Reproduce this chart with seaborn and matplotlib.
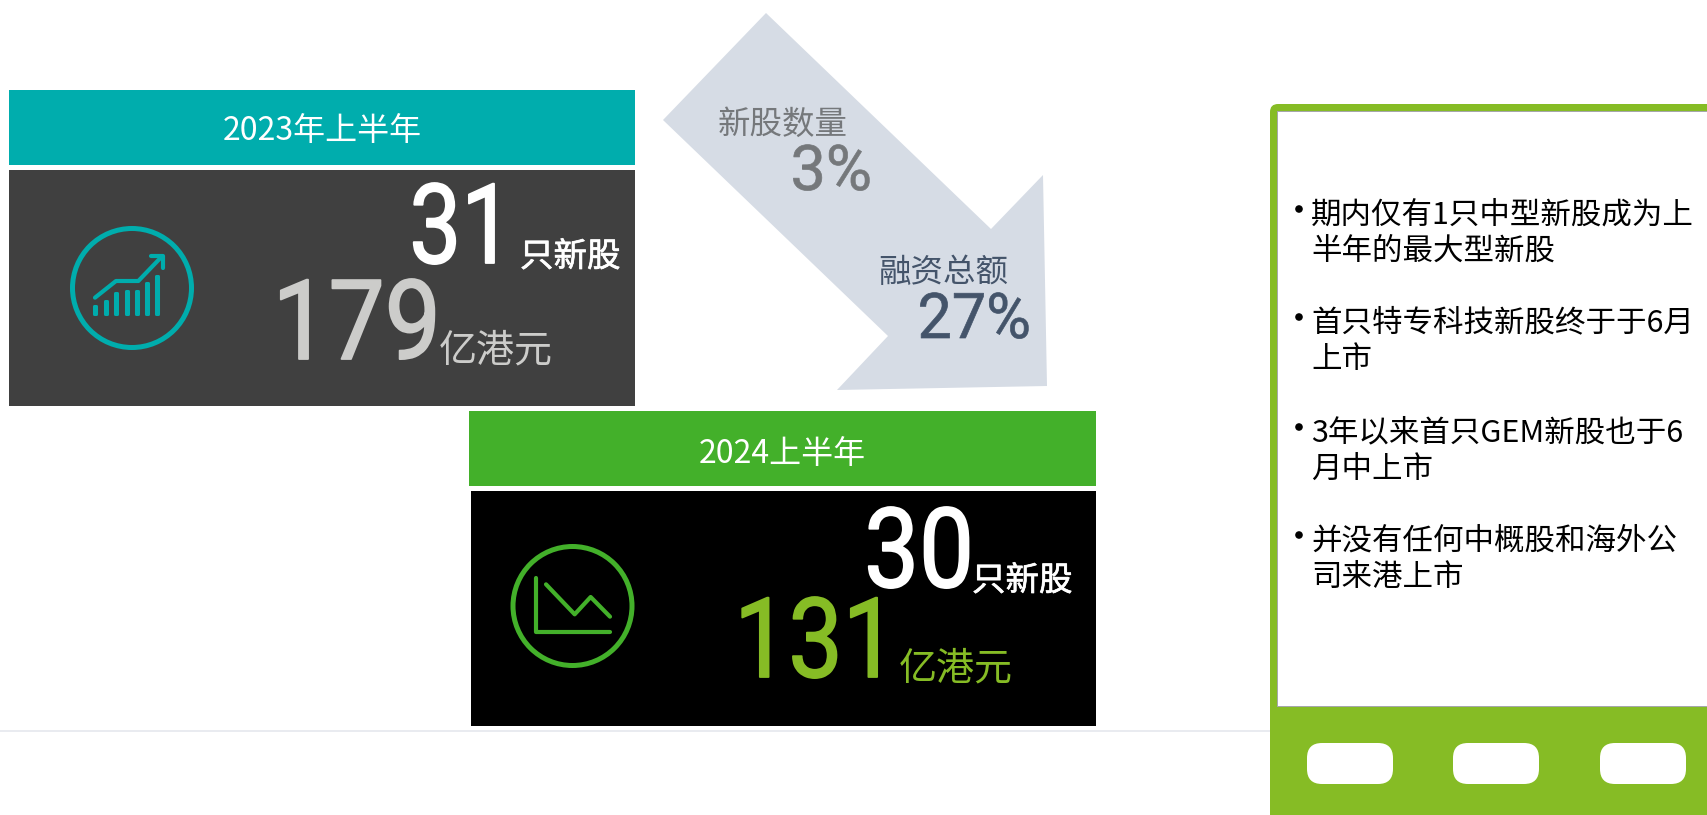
# -*- coding: utf-8 -*-
import numpy as np
import pandas as pd
import seaborn as sns
import matplotlib.pyplot as plt
import matplotlib.patheffects as pe
from matplotlib.patches import Rectangle, Circle, Polygon, FancyBboxPatch
from matplotlib.transforms import Affine2D

periods = ['2023年上半年', '2024上半年']
ipo_counts = [31, 30]
funds_raised = [179, 131]
drop_labels = ['新股数量', '融资总额']
drop_pct = [3, 27]
notes = [['期内仅有1只中型新股成为上', '半年的最大型新股'],
         ['首只特专科技新股终于于6月', '上市'],
         ['3年以来首只GEM新股也于6', '月中上市'],
         ['并没有任何中概股和海外公', '司来港上市']]

# icon readings, in units of the zoomed crop
icon_bar_x = [105, 137, 169, 200, 231, 261, 292]
icon_bar_h = [23, 39, 62, 70, 70, 92, 115]
icon_up_x = [105, 168, 235, 305]
icon_up_y = [248, 198, 198, 125]
icon_head_x = [272, 310, 310]
icon_head_y = [122, 122, 158]
icon_axis_x = [109, 109, 330]
icon_axis_y = [130, 290, 290]
icon_down_x = [138, 224, 272, 330]
icon_down_y = [148, 238, 186, 245]

TEAL = '#00ADAD'
GREEN = '#43B02A'
LIME = '#86BC25'
DARK = '#404040'
PALE = '#CCCCCA'
GREY = '#75787B'
SLATE = '#44546A'
ARROW = '#D6DCE5'

sns.set_theme(style='white')
cjk = ['Noto Sans CJK SC', 'DejaVu Sans']
big = ['Roboto', 'DejaVu Sans']
plt.rcParams['font.family'] = cjk

W, H = 1707, 815
fig = plt.figure(figsize=(W / 100, H / 100), dpi=100, facecolor='white')
ax = fig.add_axes([0, 0, 1, 1])
ax.set_xlim(0, W)
ax.set_ylim(H, 0)
ax.set_axis_off()


class Squeeze(pe.AbstractPathEffect):
    # narrow the glyphs around x0, the installed fonts have no condensed digits
    def __init__(self, sx, x0, stroke):
        super().__init__()
        self.sx = sx
        self.x0 = x0
        self.stroke = stroke

    def draw_path(self, renderer, gc, tpath, affine, rgbFace=None):
        t = affine + Affine2D().translate(-self.x0, 0).scale(self.sx, 1).translate(self.x0, 0)
        gc0 = renderer.new_gc()
        gc0.copy_properties(gc)
        gc0.set_linewidth(self.stroke)
        gc0.set_foreground(rgbFace)
        renderer.draw_path(gc0, tpath, t, rgbFace)
        gc0.restore()


def box(x0, y0, x1, y1, color, z=1):
    ax.add_patch(Rectangle((x0, y0), x1 - x0, y1 - y0, fc=color, ec='none', zorder=z))


def inset(x, y, w, h):
    a = fig.add_axes([x / W, 1 - (y + h) / H, w / W, h / H])
    a.patch.set_alpha(0)
    return a


def label(x, y, s, px, color, ha='left', va='center', family=cjk, **kw):
    return ax.text(x, y, s, fontsize=px * 0.72, color=color, ha=ha, va=va, family=family, zorder=5, **kw)


def number(x, y, s, px, color, sx, stroke=1.3):
    t = label(x, y, s, px, color, ha='right', va='baseline', family=big)
    t.set_path_effects([Squeeze(sx, x, stroke)])


def unit(x, y, s, px, color, stroke=0.0):
    t = label(x, y, s, px, color)
    if stroke:
        t.set_path_effects([pe.withStroke(linewidth=stroke, foreground=color)])


# baseline rule
ax.plot([0, 1270], [731, 731], color='#E5E8EE', lw=1.2, zorder=0)

# 2023 block
box(9, 90, 635, 165, TEAL)
box(9, 170, 635, 406, DARK)
label(322, 131, periods[0], 32, 'white', ha='center')
number(513, 263, str(ipo_counts[0]), 111, 'white', 0.83)
unit(520, 257, '只新股', 33.5, 'white', 0.5)
number(441, 359, str(funds_raised[0]), 111, PALE, 0.9)
unit(439, 351, '亿港元', 38, PALE)

# 2024 block
box(469, 411, 1096, 486, GREEN)
box(471, 491, 1096, 726, 'black')
label(782, 454, periods[1], 32, 'white', ha='center')
number(974, 587, str(ipo_counts[1]), 111, 'white', 0.88)
unit(972, 581, '只新股', 33.5, 'white', 0.5)
number(897, 677, str(funds_raised[1]), 111, LIME, 0.87)
unit(899, 669, '亿港元', 38, LIME)

# arrow
arrow_x = [766, 991, 1043, 1047, 837, 888, 663]
arrow_y = [13, 229, 175, 386, 390, 336, 120]
ax.add_patch(Polygon(np.column_stack([arrow_x, arrow_y]), fc=ARROW, ec='none', zorder=1))
label(783, 125, drop_labels[0], 32.5, GREY, ha='center', fontweight='light')
number(872, 190, f'{drop_pct[0]}%', 63, GREY, 1.0, stroke=0.5)
label(943, 273, drop_labels[1], 32.5, SLATE, ha='center', fontweight='light')
number(1031, 338, f'{drop_pct[1]}%', 63, SLATE, 0.97, stroke=0.5)

# icon circles
ax.add_patch(Circle((132, 288), 59.5, fc='none', ec=TEAL, lw=3.6, zorder=3))
ax.add_patch(Circle((572.5, 606), 59.5, fc='none', ec=GREEN, lw=3.6, zorder=3))

# rising icon: small bars plus trend arrow
bars = inset(60, 215, 150, 99)
sns.barplot(x=icon_bar_x, y=icon_bar_h, native_scale=True, width=0.2, color=TEAL,
            saturation=1, ax=bars)
for p in bars.patches:
    p.set_edgecolor(TEAL)
    p.set_linewidth(2.2)
    p.set_joinstyle('round')
    p.set_clip_on(False)
bars.set_xlim(0, 450)
bars.set_ylim(0, 297)
bars.set_axis_off()

up = inset(60, 215, 150, 150)
sns.lineplot(x=icon_up_x, y=icon_up_y, sort=False, estimator=None, color=TEAL, lw=3,
             solid_capstyle='round', solid_joinstyle='round', ax=up)
sns.lineplot(x=icon_head_x, y=icon_head_y, sort=False, estimator=None, color=TEAL, lw=3,
             solid_capstyle='round', solid_joinstyle='round', ax=up)
up.set_xlim(0, 450)
up.set_ylim(450, 0)
up.set_axis_off()

# falling icon
down = inset(500, 535, 150, 150)
sns.lineplot(x=icon_axis_x, y=icon_axis_y, sort=False, estimator=None, color=GREEN, lw=3,
             solid_capstyle='round', solid_joinstyle='round', ax=down)
sns.lineplot(x=icon_down_x, y=icon_down_y, sort=False, estimator=None, color=GREEN, lw=3,
             solid_capstyle='round', solid_joinstyle='round', ax=down)
down.set_xlim(0, 450)
down.set_ylim(450, 0)
down.set_axis_off()

# right hand panel
ax.add_patch(FancyBboxPatch((1278, 112), 500, 800, boxstyle='round,pad=8,rounding_size=8',
                            fc=LIME, ec='none', zorder=1))
box(1277, 111, W + 5, 707, '#A5A7AA', z=2)
box(1278, 112, W + 5, 706, 'white', z=2)
for x0 in [1307, 1453, 1600]:
    ax.add_patch(FancyBboxPatch((x0 + 15, 758), 56, 11, boxstyle='round,pad=15,rounding_size=15',
                                fc='white', ec='none', zorder=3))

line_y = [[215, 251], [323, 360], [433, 469], [541, 578]]
for rows, ys in zip(notes, line_y):
    ax.add_patch(Circle((1299, ys[0] - 6), 3.8, fc='black', ec='none', zorder=5))
    for s, y in zip(rows, ys):
        label(1311, y, s, 30.5, 'black')

fig.savefig('out.png', dpi=100)
